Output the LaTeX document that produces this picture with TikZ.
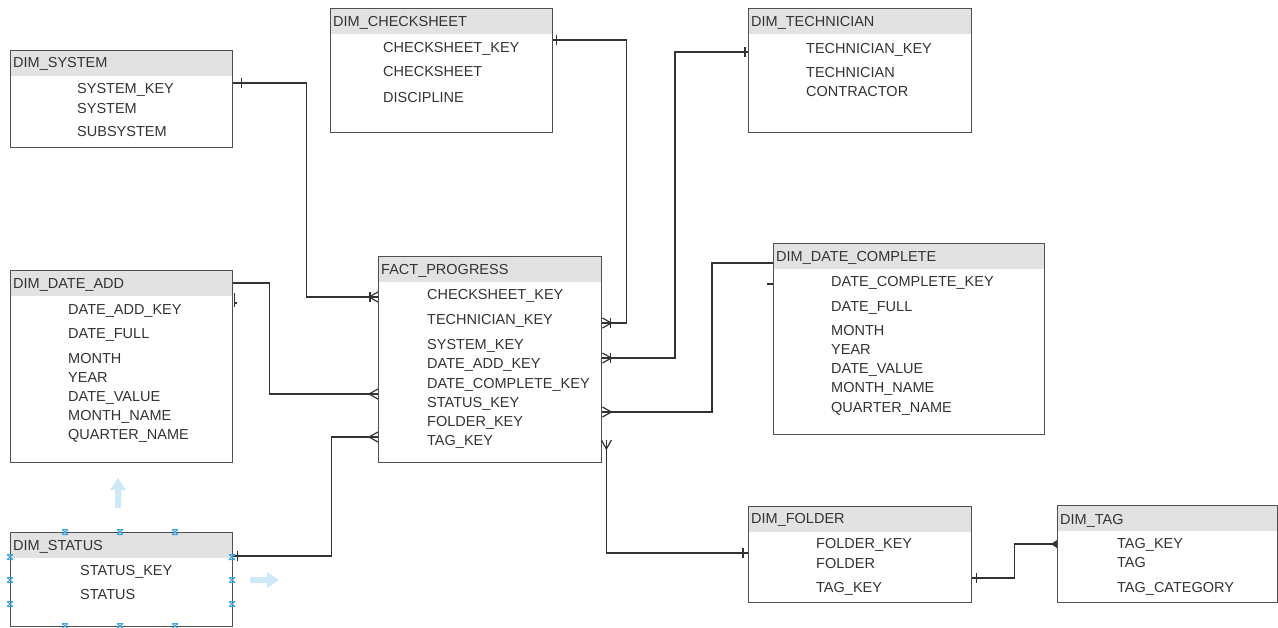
\documentclass[tikz,border=0pt]{standalone}
\usepackage{fontspec}
\setmainfont{Liberation Sans}
\usetikzlibrary{calc}
\definecolor{bord}{HTML}{505050}
\definecolor{hdr}{HTML}{E2E2E2}
\definecolor{txt}{HTML}{333333}
\definecolor{lnk}{HTML}{333333}
\definecolor{sel}{HTML}{3AA8E6}
\definecolor{ghost}{HTML}{CDE8F7}
\tikzset{
  manyend/.pic={\draw[draw=lnk,line width=1.2pt] (0,-5)--(9,0)--(0,5);},
  manybar/.pic={\draw[draw=lnk,line width=1.2pt] (0,-5)--(9,0)--(0,5); \draw[draw=lnk,line width=1.2pt] (8,-5)--(8,5);},
  tickbar/.pic={\draw[draw=lnk,line width=1.2pt] (0,-5)--(0,5);},
  handle/.pic={\draw[sel,line width=1pt] (-3,-2.5)--(3,2.5) (-3,2.5)--(3,-2.5) (-3,-2.5)--(3,-2.5) (-3,2.5)--(3,2.5);}
}
\begin{document}
\begin{tikzpicture}[x=1pt,y=-1pt,
  tbl/.style={draw=bord,line width=1.4pt,anchor=north west,inner sep=0pt,
    path picture={\fill[hdr] (path picture bounding box.north west) rectangle ([yshift=-25pt]path picture bounding box.north east);}},
  ttl/.style={anchor=base west,inner sep=0pt,text=txt,font=\fontsize{14.5}{16}\selectfont},
  fld/.style={ttl},
  link/.style={draw=lnk,line width=1.2pt}]
\useasboundingbox (0,0) rectangle (1278,627);
\fill[white] (0,0) rectangle (1278,627);

% ghost UI arrows
\fill[ghost] (115,508) -- (115,490) -- (110,490) -- (118,478) -- (126,490) -- (121,490) -- (121,508) -- cycle;
\fill[ghost] (250,577) -- (267,577) -- (267,572) -- (279,580) -- (267,588) -- (267,583) -- (250,583) -- cycle;

% tables
\node[tbl,minimum width=222pt,minimum height=97pt] (sys) at (10,50) {};
\node[tbl,minimum width=222pt,minimum height=124pt] (ck) at (330,8) {};
\node[tbl,minimum width=223pt,minimum height=124pt] (tech) at (748,8) {};
\node[tbl,minimum width=223pt,minimum height=206pt] (fact) at (378,256) {};
\node[tbl,minimum width=222pt,minimum height=192pt] (da) at (10,270) {};
\node[tbl,minimum width=222pt,minimum height=94pt] (st) at (10,532) {};
\node[tbl,minimum width=271pt,minimum height=191pt] (dc) at (773,243) {};
\node[tbl,minimum width=223pt,minimum height=96pt] (fo) at (748,506) {};
\node[tbl,minimum width=220pt,minimum height=97pt] (tg) at (1057,505) {};

% titles
\node[ttl] (sysT) at (13,67) {DIM\_SYSTEM};
\node[ttl] (ckT) at (333,26) {DIM\_CHECKSHEET};
\node[ttl] (techT) at (751,26) {DIM\_TECHNICIAN};
\node[ttl] (factT) at (381,274) {FACT\_PROGRESS};
\node[ttl] (daT) at (13,288) {DIM\_DATE\_ADD};
\node[ttl] (stT) at (13,550) {DIM\_STATUS};
\node[ttl] (dcT) at (776,261) {DIM\_DATE\_COMPLETE};
\node[ttl] (foT) at (751,523) {DIM\_FOLDER};
\node[ttl] (tgT) at (1060,524) {DIM\_TAG};

% fields
\node[fld] (s1) at (77,93) {SYSTEM\_KEY};
\node[fld] (s2) at (77,113) {SYSTEM};
\node[fld] (s3) at (77,136) {SUBSYSTEM};

\node[fld] (c1) at (383,52) {CHECKSHEET\_KEY};
\node[fld] (c2) at (383,76) {CHECKSHEET};
\node[fld] (c3) at (383,102) {DISCIPLINE};

\node[fld] (t1) at (806,53) {TECHNICIAN\_KEY};
\node[fld] (t2) at (806,77) {TECHNICIAN};
\node[fld] (t3) at (806,96) {CONTRACTOR};

\node[fld] (f1) at (427,299) {CHECKSHEET\_KEY};
\node[fld] (f2) at (427,324) {TECHNICIAN\_KEY};
\node[fld] (f3) at (427,349) {SYSTEM\_KEY};
\node[fld] (f4) at (427,368) {DATE\_ADD\_KEY};
\node[fld] (f5) at (427,388) {DATE\_COMPLETE\_KEY};
\node[fld] (f6) at (427,407) {STATUS\_KEY};
\node[fld] (f7) at (427,426) {FOLDER\_KEY};
\node[fld] (f8) at (427,445) {TAG\_KEY};

\node[fld] (d1) at (68,314) {DATE\_ADD\_KEY};
\node[fld] (d2) at (68,338) {DATE\_FULL};
\node[fld] (d3) at (68,363) {MONTH};
\node[fld] (d4) at (68,382) {YEAR};
\node[fld] (d5) at (68,401) {DATE\_VALUE};
\node[fld] (d6) at (68,420) {MONTH\_NAME};
\node[fld] (d7) at (68,439) {QUARTER\_NAME};

\node[fld] (st1) at (80,575) {STATUS\_KEY};
\node[fld] (st2) at (80,599) {STATUS};

\node[fld] (e1) at (831,286) {DATE\_COMPLETE\_KEY};
\node[fld] (e2) at (831,311) {DATE\_FULL};
\node[fld] (e3) at (831,335) {MONTH};
\node[fld] (e4) at (831,354) {YEAR};
\node[fld] (e5) at (831,373) {DATE\_VALUE};
\node[fld] (e6) at (831,392) {MONTH\_NAME};
\node[fld] (e7) at (831,412) {QUARTER\_NAME};

\node[fld] (o1) at (816,548) {FOLDER\_KEY};
\node[fld] (o2) at (816,568) {FOLDER};
\node[fld] (o3) at (816,592) {TAG\_KEY};

\node[fld] (g1) at (1117,548) {TAG\_KEY};
\node[fld] (g2) at (1117,567) {TAG};
\node[fld] (g3) at (1117,592) {TAG\_CATEGORY};

% connectors
\draw[link] ($(sys.north east)+(0,33)$) -- ++(73,0) |- ($(fact.north west)+(0,41)$);
\path ($(sys.north east)+(8,33)$) pic {tickbar};
\path ($(fact.north west)+(0,41)$) pic[rotate=180] {manybar};

\draw[link] ($(ck.north east)+(0,32)$) -- ++(73,0) |- ($(fact.north east)+(0,67)$);
\path ($(ck.north east)+(3,32)$) pic {tickbar};
\path ($(fact.north east)+(0,67)$) pic {manybar};

\draw[link] ($(tech.north west)+(0,44)$) -- ++(-73,0) |- ($(fact.north east)+(0,102)$);
\path ($(tech.north west)+(-3,44)$) pic {tickbar};
\path ($(fact.north east)+(0,102)$) pic {manybar};

\draw[link] ($(da.north east)+(0,13)$) -- ++(36,0) |- ($(fact.north west)+(0,138)$);
\draw[link] ($(da.north east)+(1,23)$) -- ++(0,14) ($(da.north east)+(1,33)$) -- ++(3,0);
\path ($(fact.north west)+(0,138)$) pic[rotate=180] {manyend};

\draw[link] ($(st.north east)+(0,24)$) -- ++(98,0) |- ($(fact.north west)+(0,181)$);
\path ($(st.north east)+(4,24)$) pic {tickbar};
\path ($(fact.north west)+(0,181)$) pic[rotate=180] {manyend};

\draw[link] ($(dc.north west)+(0,20)$) -- ++(-61,0) |- ($(fact.north east)+(0,156)$);
\draw[link] ($(dc.north west)+(-6,41)$) -- ++(6,0);
\path ($(fact.north east)+(0,156)$) pic {manyend};

\draw[link] ($(fact.north east)+(4,184)$) |- ($(fo.north west)+(0,47)$);
\path ($(fact.north east)+(4,184)$) pic[rotate=-90] {manyend};
\path ($(fo.north west)+(-5,47)$) pic {tickbar};

\draw[link] ($(fo.north east)+(0,72)$) -- ++(42,0) |- ($(tg.north west)+(0,39)$);
\path ($(fo.north east)+(4,72)$) pic {tickbar};
\fill[lnk] ($(tg.north west)+(-6,39)$) -- ($(tg.north west)+(0,35)$) -- ($(tg.north west)+(0,43)$) -- cycle;

% selection handles on DIM_STATUS
\foreach \hx in {65,120,175} {
  \path (\hx,532) pic {handle};
  \path (\hx,626) pic {handle};
}
\foreach \hy in {557,580,604} {
  \path (10,\hy) pic {handle};
  \path (232,\hy) pic {handle};
}
\end{tikzpicture}
\end{document}
